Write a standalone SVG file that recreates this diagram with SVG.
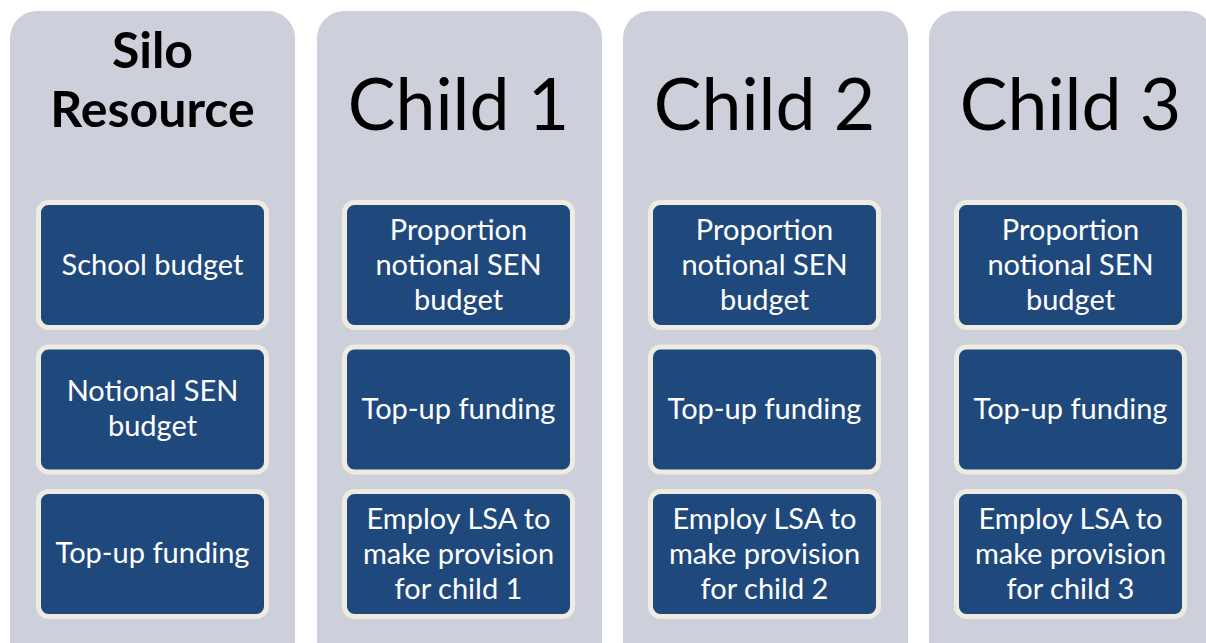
<svg xmlns="http://www.w3.org/2000/svg" width="1206" height="643" viewBox="0 0 1206 643">
<style>
.col{fill:#CDD0DA}
.box{fill:#1F497D;stroke:#EEEBE0;stroke-width:5}
.t{font-family:Lato,"Liberation Sans",sans-serif;font-size:29px;fill:#FFFFFF;text-anchor:middle}
.h{font-family:Lato,"Liberation Sans",sans-serif;font-size:71.5px;fill:#000000;text-anchor:middle}
.hb{font-family:Lato,"Liberation Sans",sans-serif;font-size:50px;font-weight:bold;fill:#000000;text-anchor:middle}
</style>
<rect width="1206" height="643" fill="#FFFFFF"/>
<g id="silo">
<rect class="col" x="10" y="11" width="285" height="660" rx="27"/>
<text class="hb" x="152.5" y="68">Silo</text>
<text class="hb" x="152.5" y="127">Resource</text>
</g>
<g id="silo-school">
<rect class="box" x="38.5" y="202.5" width="228" height="125" rx="10"/>
<text class="t" x="152.5" y="275">School budget</text>
</g>
<g id="silo-notional">
<rect class="box" x="38.5" y="347" width="228" height="125" rx="10"/>
<text class="t" x="152.5" y="401">Notional SEN</text>
<text class="t" x="152.5" y="436">budget</text>
</g>
<g id="silo-topup">
<rect class="box" x="38.5" y="491.5" width="228" height="125" rx="10"/>
<text class="t" x="152.5" y="563">Top-up funding</text>
</g>

<g id="child1">
<rect class="col" x="317" y="11" width="285" height="660" rx="27"/>
<text class="h" x="458.5" y="130">Child 1</text>
</g>
<g id="child1-prop">
<rect class="box" x="344.5" y="202.5" width="228" height="125" rx="10"/>
<text class="t" x="458.5" y="240">Proportion</text>
<text class="t" x="458.5" y="275">notional SEN</text>
<text class="t" x="458.5" y="310">budget</text>
</g>
<g id="child1-topup">
<rect class="box" x="344.5" y="347" width="228" height="125" rx="10"/>
<text class="t" x="458.5" y="419">Top-up funding</text>
</g>
<g id="child1-lsa">
<rect class="box" x="344.5" y="491.5" width="228" height="125" rx="10"/>
<text class="t" x="458.5" y="529">Employ LSA to</text>
<text class="t" x="458.5" y="564">make provision</text>
<text class="t" x="458.5" y="599">for child 1</text>
</g>

<g id="child2">
<rect class="col" x="623" y="11" width="285" height="660" rx="27"/>
<text class="h" x="764.5" y="130">Child 2</text>
</g>
<g id="child2-prop">
<rect class="box" x="650.5" y="202.5" width="228" height="125" rx="10"/>
<text class="t" x="764.5" y="240">Proportion</text>
<text class="t" x="764.5" y="275">notional SEN</text>
<text class="t" x="764.5" y="310">budget</text>
</g>
<g id="child2-topup">
<rect class="box" x="650.5" y="347" width="228" height="125" rx="10"/>
<text class="t" x="764.5" y="419">Top-up funding</text>
</g>
<g id="child2-lsa">
<rect class="box" x="650.5" y="491.5" width="228" height="125" rx="10"/>
<text class="t" x="764.5" y="529">Employ LSA to</text>
<text class="t" x="764.5" y="564">make provision</text>
<text class="t" x="764.5" y="599">for child 2</text>
</g>

<g id="child3">
<rect class="col" x="929" y="11" width="285" height="660" rx="27"/>
<text class="h" x="1070.5" y="130">Child 3</text>
</g>
<g id="child3-prop">
<rect class="box" x="956.5" y="202.5" width="228" height="125" rx="10"/>
<text class="t" x="1070.5" y="240">Proportion</text>
<text class="t" x="1070.5" y="275">notional SEN</text>
<text class="t" x="1070.5" y="310">budget</text>
</g>
<g id="child3-topup">
<rect class="box" x="956.5" y="347" width="228" height="125" rx="10"/>
<text class="t" x="1070.5" y="419">Top-up funding</text>
</g>
<g id="child3-lsa">
<rect class="box" x="956.5" y="491.5" width="228" height="125" rx="10"/>
<text class="t" x="1070.5" y="529">Employ LSA to</text>
<text class="t" x="1070.5" y="564">make provision</text>
<text class="t" x="1070.5" y="599">for child 3</text>
</g>
<g id="connectors"></g>
</svg>
